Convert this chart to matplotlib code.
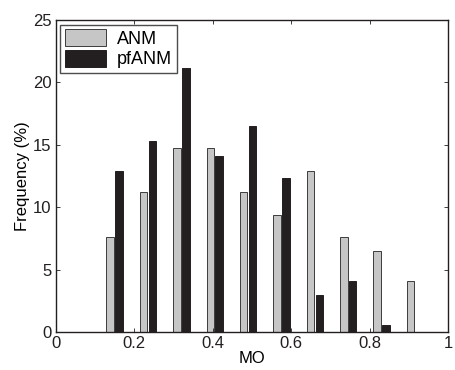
import numpy as np
import matplotlib
matplotlib.use("Agg")
import matplotlib.pyplot as plt

plt.rcParams["font.family"] = ["Liberation Sans", "DejaVu Sans"]
plt.rcParams["font.size"] = 12

# histogram bin centres and frequencies (%)
mo_centres = [0.15, 0.235, 0.32, 0.405, 0.49, 0.575, 0.66, 0.745, 0.83, 0.915]
anm_freq = [7.65, 11.18, 14.71, 14.71, 11.18, 9.41, 12.94, 7.65, 6.47, 4.12]
pfanm_freq = [12.94, 15.29, 21.18, 14.12, 16.47, 12.35, 2.94, 4.12, 0.59, 0.0]
series_names = ["ANM", "pfANM"]

x = np.array(mo_centres)
offset = 0.0113
width = 0.019

fig = plt.figure(figsize=(4.55, 3.7), dpi=100)
ax = fig.add_axes([0.1224, 0.1027, 0.863, 0.8432])

ax.bar(x - offset, anm_freq, width, color="#c6c6c6", edgecolor="#3c3c3c",
       linewidth=0.7, label=series_names[0])
ax.bar(x + offset, pfanm_freq, width, color="#231f20", edgecolor="#231f20",
       linewidth=0.7, label=series_names[1])

ax.set_xlim(0, 1)
ax.set_ylim(0, 25)
ax.set_xticks(np.arange(0, 1.01, 0.2))
ax.set_xticklabels(["0", "0.2", "0.4", "0.6", "0.8", "1"])
ax.set_yticks(np.arange(0, 26, 5))
ax.tick_params(direction="in", top=True, right=True, length=3, width=0.6,
               labelsize=12, colors="#231f20", pad=3)
for s in ax.spines.values():
    s.set_linewidth(1.0)
    s.set_color("#231f20")

ax.set_xlabel("MO", fontsize=12, labelpad=0)
ax.set_ylabel("Frequency (%)", fontsize=12, labelpad=2)

leg = ax.legend(loc="upper left", frameon=True, fancybox=False,
                borderaxespad=0.25, handlelength=2.3, handleheight=1.1,
                handletextpad=0.6, borderpad=0.25, labelspacing=0.1, fontsize=13)
leg.get_frame().set_edgecolor("#231f20")
leg.get_frame().set_linewidth(1.0)

plt.savefig("out.png", dpi=100)
plt.close(fig)
